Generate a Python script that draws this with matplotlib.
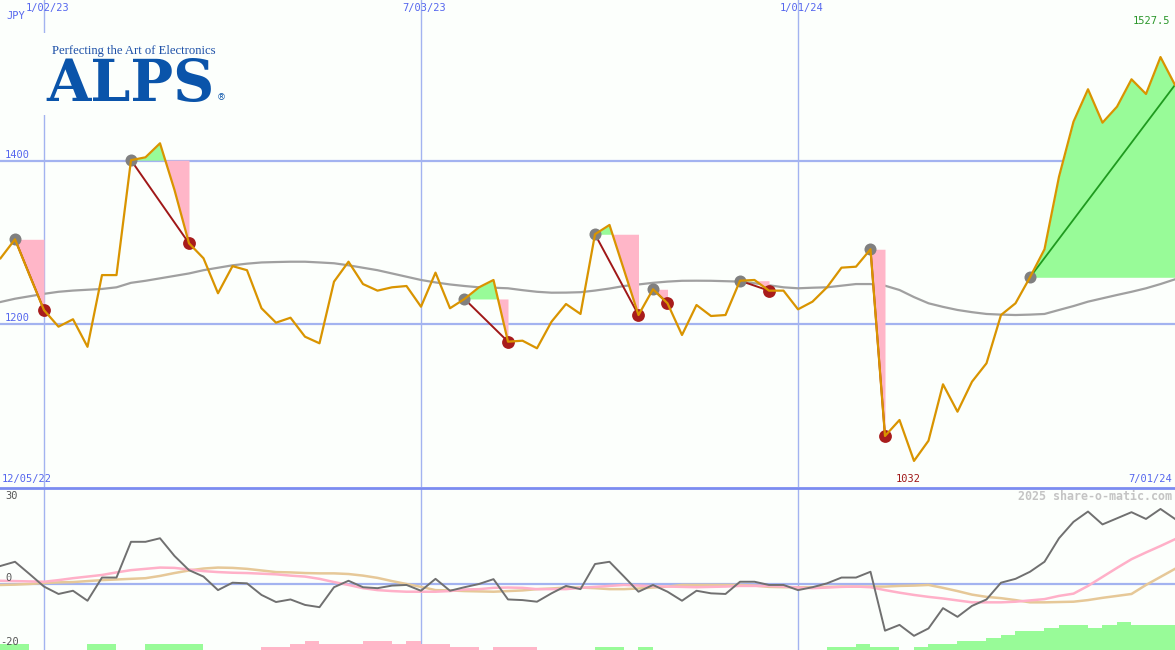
import matplotlib
matplotlib.use('Agg')
import matplotlib.pyplot as plt
import matplotlib.dates as mdates
from matplotlib.patches import Rectangle
from matplotlib.lines import Line2D
import numpy as np
import pandas as pd

# weekly closes, JPY
dates = pd.date_range('2022-12-12', periods=82, freq='7D')
price = np.array([
    1280.6, 1303.9, 1260.0, 1217.0, 1196.7, 1205.8, 1172.0, 1260.0, 1260.0, 1401.0,
    1404.5, 1421.7, 1364.4, 1299.0, 1280.6, 1237.7, 1271.0, 1266.0, 1219.3, 1201.6,
    1207.7, 1184.4, 1176.3, 1251.9, 1276.4, 1249.0, 1240.9, 1245.0, 1246.6, 1221.2,
    1263.0, 1219.3, 1230.7, 1245.0, 1254.0, 1178.3, 1179.5, 1170.2, 1202.8, 1224.5,
    1212.3, 1310.1, 1321.5, 1266.3, 1211.0, 1242.6, 1225.4, 1186.5, 1223.3, 1209.8,
    1211.0, 1253.1, 1254.0, 1240.9, 1240.9, 1218.0, 1227.4, 1245.0, 1269.1, 1270.3,
    1291.7, 1062.6, 1082.2, 1032.0, 1056.8, 1126.0, 1092.4, 1129.2, 1151.8, 1211.0,
    1225.4, 1257.3, 1291.7, 1380.7, 1448.2, 1488.0, 1447.0, 1466.6, 1500.2, 1482.2,
    1527.5, 1493.3])
# slow average (gray)
avg = np.array([
    1227, 1231, 1234, 1237, 1239.5, 1241, 1242, 1243, 1245, 1250.5,
    1253, 1256, 1259, 1262, 1266, 1269, 1272, 1274, 1275.5, 1276,
    1276.4, 1276.4, 1275.5, 1274.5, 1272, 1269, 1266, 1262, 1258, 1254,
    1251, 1248.5, 1246.6, 1245, 1244.5, 1243.8, 1241.5, 1239.5, 1238.4, 1238.5,
    1239, 1241, 1243.5, 1246.6, 1248.5, 1250.5, 1252, 1253, 1253.1, 1253,
    1252.5, 1252, 1250, 1247.5, 1245, 1243.8, 1244.5, 1245, 1247, 1249,
    1249, 1247, 1241.7, 1233, 1225.4, 1221, 1217.2, 1214.5, 1212.3, 1211.5,
    1211, 1211.5, 1212.3, 1217.2, 1222, 1227.4, 1231.5, 1235.6, 1239.5, 1243.8,
    1249, 1254.8])

# lower panel
osc = np.array([
    5.6, 6.9, 3.1, -0.8, -3.1, -2.1, -5.2, 2.0, 2.0, 13.1,
    13.1, 14.2, 8.7, 4.3, 2.3, -1.9, 0.4, 0.2, -3.4, -5.6,
    -4.8, -6.5, -7.2, -1.0, 1.0, -1.0, -1.3, -0.5, -0.3, -2.1,
    1.6, -2.1, -1.0, 0.0, 1.5, -4.8, -5.0, -5.5, -2.9, -0.6,
    -1.6, 6.2, 6.9, 2.3, -2.4, -0.3, -2.4, -5.2, -2.1, -2.9,
    -3.1, 0.7, 0.7, -0.3, -0.3, -1.9, -1.0, 0.2, 2.0, 2.0,
    3.8, -14.5, -12.7, -16.1, -13.8, -7.5, -10.2, -6.8, -4.8, 0.4,
    1.6, 3.8, 6.9, 14.2, 19.3, 22.5, 18.5, 20.4, 22.3, 20.2,
    23.3, 20.2])
osc_fast = np.array([
    1.0, 0.9, 0.8, 0.7, 1.2, 1.8, 2.3, 2.8, 3.6, 4.3,
    4.7, 5.1, 5.0, 4.5, 4.0, 3.7, 3.5, 3.4, 3.2, 3.0,
    2.6, 2.3, 1.6, 0.6, -0.3, -1.3, -1.9, -2.2, -2.4, -2.4,
    -2.4, -2.2, -1.7, -1.6, -1.2, -1.1, -1.2, -1.6, -1.6, -1.6,
    -1.2, -0.9, -0.6, -0.3, -0.5, -0.7, -0.8, -0.9, -1.0, -0.9,
    -0.8, -0.6, -0.6, -0.6, -0.8, -1.1, -1.3, -1.1, -0.9, -0.8,
    -1.0, -1.9, -2.7, -3.4, -4.0, -4.5, -5.1, -5.7, -5.7, -5.7,
    -5.5, -5.1, -4.7, -3.7, -3.0, -0.6, 2.2, 5.0, 7.7, 9.8,
    11.8, 13.9])
osc_slow = np.array([
    -0.3, -0.2, 0.0, 0.3, 0.5, 0.6, 0.9, 1.2, 1.4, 1.6,
    1.8, 2.5, 3.4, 4.2, 4.8, 5.1, 5.0, 4.7, 4.2, 3.7,
    3.6, 3.4, 3.3, 3.3, 3.1, 2.6, 1.9, 0.9, 0.0, -0.9,
    -1.9, -2.0, -2.2, -2.3, -2.4, -2.2, -2.0, -1.6, -1.4, -1.1,
    -1.1, -1.3, -1.6, -1.6, -1.4, -1.1, -0.8, -0.3, -0.3, -0.3,
    -0.3, -0.3, -0.5, -0.9, -1.0, -1.0, -1.0, -0.9, -0.8, -0.8,
    -0.8, -0.8, -0.6, -0.5, -0.3, -1.2, -2.2, -3.3, -4.0, -4.4,
    -5.0, -5.7, -5.7, -5.6, -5.5, -5.0, -4.3, -3.7, -3.1, -0.3,
    2.2, 4.7])
# bottom histogram: + green, - pink (one bar per week, last week none)
hist = np.array([
    2.0, 2.0, 0, 0, 0, 0, 2.0, 2.0, 0, 0,
    2.0, 2.0, 2.0, 2.0, 0, 0, 0, 0, -0.8, -0.8,
    -2.0, -2.8, -2.0, -2.0, -2.0, -2.8, -2.8, -2.0, -2.8, -2.0,
    -2.0, -0.8, -0.8, 0, -0.8, -0.8, -0.8, 0, 0, 0,
    0, 0.8, 0.8, 0, 0.8, 0, 0, 0, 0, 0,
    0, 0, 0, 0, 0, 0, 0, 0.8, 0.8, 1.9,
    0.8, 0.8, 0, 0.8, 1.9, 1.9, 2.8, 2.8, 3.6, 4.7,
    5.9, 5.9, 6.9, 7.8, 7.8, 6.9, 7.8, 8.6, 7.8, 7.8,
    7.8, 0])

# (entry, exit) weeks, None = still open
trades = [('2022-12-19', '2023-01-02'), ('2023-02-13', '2023-03-13'),
          ('2023-07-24', '2023-08-14'), ('2023-09-25', '2023-10-16'),
          ('2023-10-23', '2023-10-30'), ('2023-12-04', '2023-12-18'),
          ('2024-02-05', '2024-02-12'), ('2024-04-22', None)]
marks = ['2023-01-02', '2023-07-03', '2024-01-01']
mark_labels = ['1/02/23', '7/03/23', '1/01/24']

bg = '#fcfffc'
blue = '#a3b3f0'
txtblue = '#5566ee'
orange = '#d99400'
pink = '#ffb6c8'
green = '#98fb98'
mono = 'DejaVu Sans Mono'

fig = plt.figure(figsize=(11.75, 6.5), dpi=100, facecolor=bg)
ax = fig.add_axes([0, 1 - 487 / 650, 1, 487 / 650])
ax2 = fig.add_axes([0, 0, 1, 161 / 650])
x0 = mdates.date2num(dates[0]) - 0.24
x1 = mdates.date2num(dates[-1])
for a in (ax, ax2):
    a.set_facecolor(bg)
    a.set_xlim(x0, x1)
    a.set_xticks([])
    a.set_yticks([])
    for s in a.spines.values():
        s.set_visible(False)
    for m in marks:
        a.axvline(pd.Timestamp(m), color=blue, lw=1.0, zorder=1)

ax.set_ylim(1000, 1597.5)
for lvl in (1400, 1200):
    ax.axhline(lvl, color=blue, lw=1.6, zorder=1)
    ax.annotate(str(lvl), (0, lvl), xycoords=('axes fraction', 'data'),
                xytext=(5, 1), textcoords='offset pixels', fontsize=7.5,
                family=mono, color=txtblue, va='bottom')

ax.plot(dates, avg, color='#a0a0a0', lw=1.6, zorder=2)

for ent, ext in trades:
    i0 = dates.get_loc(pd.Timestamp(ent))
    i1 = dates.get_loc(pd.Timestamp(ext)) if ext else len(dates) - 1
    xs = dates[i0:i1 + 1]
    ys = price[i0:i1 + 1]
    lvl = price[i0]
    ax.fill_between(xs, ys, lvl, where=ys < lvl, interpolate=True,
                    color=pink, lw=0, zorder=3)
    ax.fill_between(xs, ys, lvl, where=ys >= lvl, interpolate=True,
                    color=green, lw=0, zorder=3)
    if ext:
        ax.plot([xs[0], xs[-1]], [lvl, ys[-1]], color='#a01818', lw=1.4, zorder=4)
        ax.scatter([xs[-1]], [ys[-1]], s=85, color='#a81c1c', lw=0, zorder=5)
    else:
        ax.plot([xs[0], xs[-1]], [lvl, ys[-1]], color='#1f9a1f', lw=1.3, zorder=4)
    ax.scatter([xs[0]], [lvl], s=75, color='#808080', lw=0, zorder=5)

ax.plot(dates, price, color=orange, lw=1.6, zorder=6)

# top / bottom labels
for m, lab in zip(marks, mark_labels):
    ax.text(pd.Timestamp(m) + pd.Timedelta(days=1.5), 1 - 8 / 487, lab,
            transform=ax.get_xaxis_transform(), ha='center', va='center',
            fontsize=7.5, family=mono, color=txtblue)
ax.text(6 / 1175, 1 - 16 / 487, 'JPY', transform=ax.transAxes, va='center',
        fontsize=7.5, family=mono, color=txtblue)
ax.text(1170 / 1175, 1 - 21 / 487, '%.1f' % price.max(), transform=ax.transAxes,
        ha='right', va='center', fontsize=7.5, family=mono, color='#2a962a')
ax.text(2 / 1175, 8 / 487, '12/05/22', transform=ax.transAxes, va='center',
        fontsize=7.5, family=mono, color=txtblue)
ax.text(1172 / 1175, 8 / 487, '7/01/24', transform=ax.transAxes, ha='right',
        va='center', fontsize=7.5, family=mono, color=txtblue)
imin = int(np.argmin(price))
ax.text(dates[imin] - pd.Timedelta(days=3), 8 / 487, '%d' % price[imin],
        transform=ax.get_xaxis_transform(), ha='center', va='center',
        fontsize=7.5, family=mono, color='#a01818')

# logo
ax.add_patch(Rectangle((38 / 1175, 1 - 115 / 487), 192 / 1175, 82 / 487,
                       transform=ax.transAxes, facecolor=bg, lw=0, zorder=1.5))
fig.text(52 / 1175, 1 - 51 / 650, 'Perfecting the Art of Electronics',
         family='Liberation Serif', fontsize=9.1, color='#1d50a8', va='center')
fig.text(46 / 1175, 1 - 101 / 650, 'ALPS', family='DejaVu Serif',
         fontweight='bold', fontsize=41, color='#0a54aa', va='baseline')
fig.text(217 / 1175, 1 - 98 / 650, '®', family='DejaVu Sans', fontsize=6.5,
         color='#0a54aa', va='center')

# separator between panels
fig.add_artist(Line2D([0, 1], [1 - 487.5 / 650] * 2, color='#7b8cf0', lw=2,
                      transform=fig.transFigure))

# lower panel
ax2.set_ylim(-20.5, 29.5)
ax2.axhline(0, color=blue, lw=1.6, zorder=1)
ax2.bar(dates, np.abs(hist), width=7, bottom=-20.5, align='edge',
        color=[green if h > 0 else pink for h in hist], lw=0, zorder=2)
ax2.plot(dates, osc_slow, color='#e6c898', lw=1.8, zorder=3)
ax2.plot(dates, osc_fast, color='#ffb0c8', lw=1.8, zorder=3)
ax2.plot(dates, osc, color='#707070', lw=1.4, zorder=4)
ax2.text(5 / 1175, (650 - 496) / 161, '30', transform=ax2.transAxes,
         va='center', fontsize=7.5, family=mono, color='#555555')
ax2.annotate('0', (0, 0), xycoords=('axes fraction', 'data'), xytext=(5, 1),
             textcoords='offset pixels', va='bottom', fontsize=7.5,
             family=mono, color='#555555')
ax2.text(0, (650 - 642) / 161, '-20', transform=ax2.transAxes, va='center',
         fontsize=7.5, family=mono, color='#555555')
ax2.text(1172 / 1175, (650 - 496) / 161, '2025 share-o-matic.com',
         transform=ax2.transAxes, ha='right', va='center', fontsize=8.4,
         family=mono, fontweight='bold', color='#c4c4c4')

fig.savefig('out.png', dpi=100, facecolor=bg)
